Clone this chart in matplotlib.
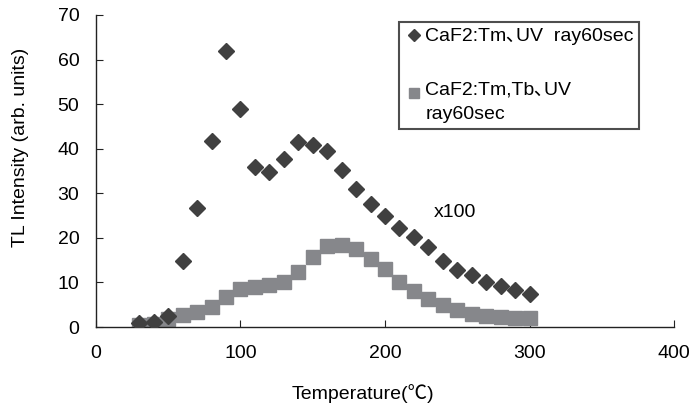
import matplotlib
matplotlib.use('Agg')
import matplotlib.pyplot as plt
from matplotlib.legend_handler import HandlerLine2D

plt.rcParams['font.family'] = ['Liberation Sans', 'Noto Sans CJK JP']

# temperature steps (deg C)
temps = [30, 40, 50, 60, 70, 80, 90, 100, 110, 120, 130, 140, 150, 160,
         170, 180, 190, 200, 210, 220, 230, 240, 250, 260, 270, 280, 290, 300]

# CaF2:Tm
tm_vals = [0.9, 1.1, 2.5, 14.9, 26.8, 41.8, 61.9, 48.9, 35.9, 34.8, 37.8, 41.4,
           40.8, 39.4, 35.3, 31.0, 27.6, 24.9, 22.2, 20.2, 17.9, 14.7, 12.9,
           11.7, 10.1, 9.1, 8.2, 7.3]

# CaF2:Tm,Tb (x100)
tmtb_vals = [0.4, 0.7, 1.7, 2.8, 3.3, 4.6, 6.7, 8.6, 8.9, 9.4, 10.2, 12.3,
             15.8, 18.1, 18.4, 17.4, 15.3, 13.1, 10.0, 8.1, 6.3, 4.9, 3.9,
             3.0, 2.5, 2.2, 2.1, 2.1]

labels = ['CaF2:Tm､UV  ray60sec', 'CaF2:Tm,Tb､UV\nray60sec']


# legend marker lined up with the first line of a two-line label
class TopLineHandler(HandlerLine2D):
    def create_artists(self, legend, orig_handle, xdescent, ydescent,
                       width, height, fontsize, trans):
        return super().create_artists(legend, orig_handle, xdescent,
                                      ydescent - 0.95 * fontsize, width, height,
                                      fontsize, trans)


fig = plt.figure(figsize=(6.94, 4.13), dpi=100)
ax = fig.add_axes([0.1383, 0.2082, 0.9712 - 0.1383, 0.9637 - 0.2082])

l1, = ax.plot(temps, tm_vals, linestyle='none', marker='D', markersize=8.5,
              color='#404040', label=labels[0], zorder=3)
l2, = ax.plot(temps, tmtb_vals, linestyle='none', marker='s', markersize=10.5,
              color='#86878b', label=labels[1], zorder=2)

ax.set_xlim(0, 400)
ax.set_ylim(0, 70)
ax.set_xticks([0, 100, 200, 300, 400])
ax.set_yticks(range(0, 71, 10))

for side in ['top', 'right']:
    ax.spines[side].set_visible(False)
for side in ['left', 'bottom']:
    ax.spines[side].set_color('#222222')
    ax.spines[side].set_linewidth(1.0)

ax.tick_params(axis='x', direction='in', length=5, pad=13, labelsize=14, color='#222222')
ax.tick_params(axis='y', direction='in', length=5, pad=12, labelsize=14, color='#222222')

ax.set_xlabel('Temperature(℃)', fontsize=14)
ax.set_ylabel('TL Intensity (arb. units)', fontsize=14)
ax.xaxis.label.set_va('center')
ax.yaxis.label.set_va('center')
ax.xaxis.set_label_coords(0.462, -0.212)
ax.yaxis.set_label_coords(-0.131, 0.577)

ax.text(234, 25.6, 'x100', fontsize=14, va='center', ha='left')

leg = ax.legend(loc='upper left', bbox_to_anchor=(399 / 694, 1 - 22 / 413),
                bbox_transform=fig.transFigure, borderaxespad=0,
                fontsize=14, frameon=True, fancybox=False, handlelength=0.95,
                handletextpad=0.1, borderpad=0.3, labelspacing=1.86,
                markerscale=0.75, handler_map={l2: TopLineHandler()})
leg.texts[1].set_linespacing(1.55)
leg.get_frame().set_edgecolor('#222222')
leg.get_frame().set_linewidth(1.5)

fig.savefig('out.png', dpi=100)
